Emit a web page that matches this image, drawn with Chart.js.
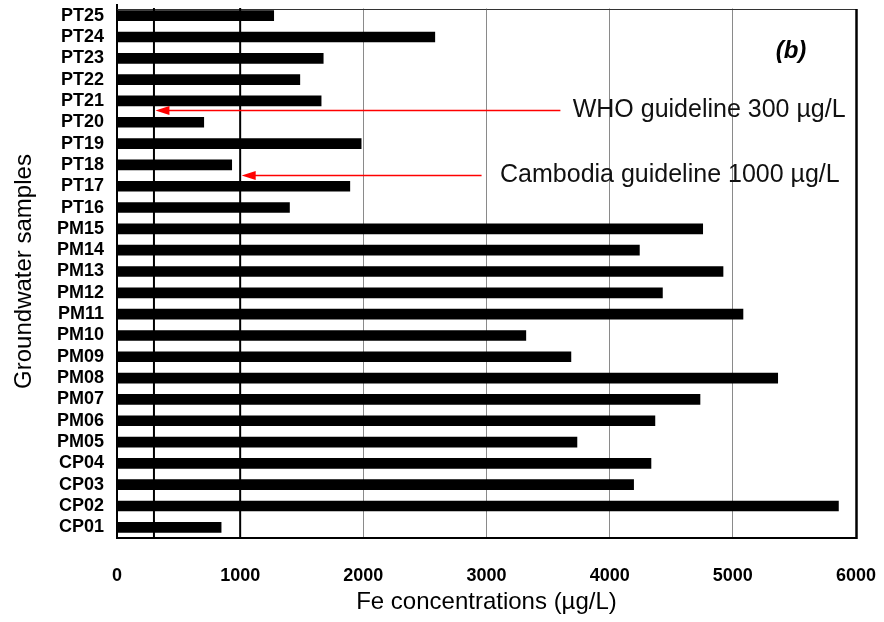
<!DOCTYPE html>
<html>
<head>
<meta charset="utf-8">
<script src="https://cdn.jsdelivr.net/npm/chart.js@4/dist/chart.umd.min.js"></script>
<style>
    html, body { margin: 0; padding: 0; background: #fff; }
</style>
</head>
<body>
<canvas id="chart-fe" width="884" height="622"></canvas>
<script>
// samples, bottom to top as in the figure
const sampleLabels = [
    "CP01", "CP02", "CP03", "CP04",
    "PM05", "PM06", "PM07", "PM08", "PM09", "PM10", "PM11", "PM12", "PM13", "PM14", "PM15",
    "PT16", "PT17", "PT18", "PT19", "PT20", "PT21", "PT22", "PT23", "PT24", "PT25"
];
const feValues = [
    848, 5860, 4197, 4338,
    3737, 4370, 4736, 5367, 3688, 3322, 5085, 4431, 4923, 4244, 4758,
    1403, 1893, 934, 1985, 707, 1660, 1487, 1677, 2583, 1275
];
const xTicks = [0, 1000, 2000, 3000, 4000, 5000, 6000];

// guideline values (µg/L)
const whoLimit = 300;
const cambodiaLimit = 1000;

const FONT = "'Liberation Sans', Arial, sans-serif";

document.addEventListener("DOMContentLoaded", function () {

    const ctx = document.getElementById("chart-fe").getContext("2d");

    function noPad(scale) {
        scale.paddingTop = 0;
        scale.paddingBottom = 0;
        scale.paddingLeft = 0;
        scale.paddingRight = 0;
    }

    function arrowWithText(c, tipX, yPix, tailX, text, textX) {
        c.strokeStyle = "#ff0000";
        c.fillStyle = "#ff0000";
        c.lineWidth = 1.5;
        c.beginPath();
        c.moveTo(tipX + 10, yPix);
        c.lineTo(tailX, yPix);
        c.stroke();
        c.beginPath();
        c.moveTo(tipX, yPix);
        c.lineTo(tipX + 14, yPix - 4.5);
        c.lineTo(tipX + 14, yPix + 4.5);
        c.closePath();
        c.fill();

        c.fillStyle = "#111";
        c.font = "25px " + FONT;
        c.textAlign = "left";
        c.textBaseline = "middle";
        c.fillText(text, textX, yPix);
    }

    const framePlugin = {
        id: "frame",
        beforeDatasetsDraw(chart) {
            const { ctx: c, chartArea: a } = chart;
            // plot frame starts a little below the first band
            c.save();
            c.fillStyle = "#fff";
            c.fillRect(a.left + 1, a.top - 1, a.right - a.left + 2, 4.5);
            c.restore();
        },
        afterDatasetsDraw(chart) {
            const { ctx: c, chartArea: a, scales: { x, y } } = chart;
            c.save();

            // top border (thin) and right border (thick)
            c.strokeStyle = "#333";
            c.lineWidth = 1;
            c.beginPath();
            c.moveTo(a.left, a.top + 4.5);
            c.lineTo(a.right, a.top + 4.5);
            c.stroke();
            c.strokeStyle = "#000";
            c.lineWidth = 2.5;
            c.beginPath();
            c.moveTo(a.right + 0.5, a.top + 4);
            c.lineTo(a.right + 0.5, a.bottom + 1);
            c.stroke();

            // guideline verticals
            c.lineWidth = 2;
            [whoLimit, cambodiaLimit].forEach(v => {
                const px = x.getPixelForValue(v);
                c.beginPath();
                c.moveTo(px, a.top + 3);
                c.lineTo(px, a.bottom);
                c.stroke();
            });

            // arrows + labels
            const whoY = (y.getPixelForValue(sampleLabels.indexOf("PT21")) + y.getPixelForValue(sampleLabels.indexOf("PT20"))) / 2 - 1;
            const camY = (y.getPixelForValue(sampleLabels.indexOf("PT18")) + y.getPixelForValue(sampleLabels.indexOf("PT17"))) / 2;
            arrowWithText(c, x.getPixelForValue(whoLimit) + 1.5, whoY, x.getPixelForValue(3600),
                "WHO guideline 300 µg/L", x.getPixelForValue(3700));
            arrowWithText(c, x.getPixelForValue(cambodiaLimit) + 1.5, camY, x.getPixelForValue(2960),
                "Cambodia guideline 1000 µg/L", x.getPixelForValue(3110));

            // panel letter
            c.fillStyle = "#000";
            c.font = "italic bold 24px " + FONT;
            c.textAlign = "center";
            c.textBaseline = "middle";
            c.fillText("(b)", a.right - 65, a.top + 46);

            c.restore();
        }
    };

    new Chart(ctx, {
        type: "bar",
        data: {
            labels: sampleLabels,
            datasets: [{
                data: feValues,
                backgroundColor: "#000",
                borderWidth: 0,
                categoryPercentage: 1,
                barPercentage: 0.5
            }]
        },
        plugins: [framePlugin],
        options: {
            indexAxis: "y",
            responsive: false,
            animation: false,
            layout: { padding: { top: 5, right: 28, left: 0, bottom: 0 } },
            plugins: {
                legend: { display: false },
                tooltip: { enabled: false }
            },
            scales: {
                x: {
                    type: "linear",
                    min: 0,
                    max: 6000,
                    afterBuildTicks: scale => {
                        scale.ticks = xTicks.map(v => ({ value: v }));
                    },
                    afterFit: scale => { scale.height = 84; noPad(scale); },
                    ticks: {
                        color: "#000",
                        padding: 27,
                        maxRotation: 0,
                        callback: v => String(v),
                        font: { family: FONT, size: 18, weight: "bold" }
                    },
                    grid: {
                        drawTicks: false,
                        lineWidth: 1,
                        color: c => (c.tick && (c.tick.value === 0 || c.tick.value === 6000)) ? "rgba(0,0,0,0)" : "#8a8a8a"
                    },
                    border: { color: "#000", width: 2 },
                    title: {
                        display: true,
                        text: "Fe concentrations (µg/L)",
                        color: "#000",
                        font: { family: FONT, size: 24 },
                        padding: { top: 0, bottom: 5 }
                    }
                },
                y: {
                    reverse: true,
                    afterFit: scale => { scale.width = 117; noPad(scale); },
                    ticks: {
                        color: "#000",
                        padding: 13,
                        autoSkip: false,
                        font: { family: FONT, size: 18, weight: "bold" }
                    },
                    grid: { drawTicks: false, color: "rgba(0,0,0,0)" },
                    border: { color: "#000", width: 2 },
                    title: {
                        display: true,
                        text: "Groundwater samples",
                        color: "#000",
                        font: { family: FONT, size: 24 },
                        padding: { top: 10, bottom: 0 }
                    }
                }
            }
        }
    });
});
</script>
</body>
</html>
